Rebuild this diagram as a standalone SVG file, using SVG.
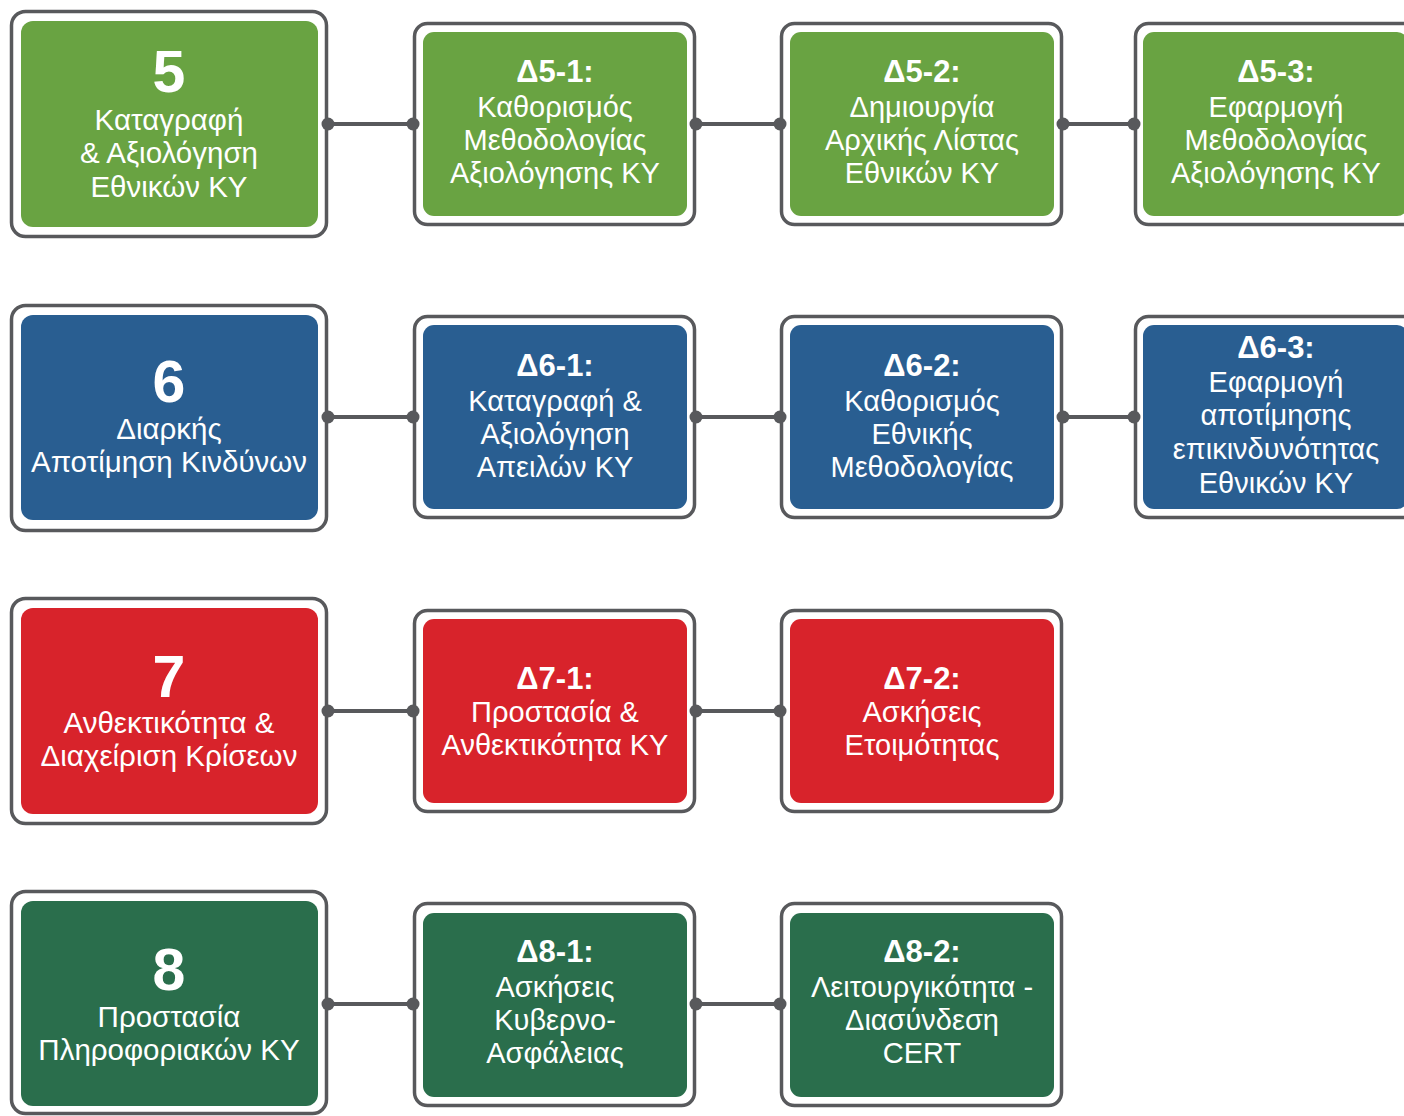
<svg xmlns="http://www.w3.org/2000/svg" width="1404" height="1116" viewBox="0 0 1404 1116">
<style>
.frame{fill:#fff;stroke:#58595c;stroke-width:3.5}
.g1{fill:#69a342}.b1{fill:#295e91}.r1{fill:#d8232b}.g2{fill:#2a6e4c}
text{font-family:"Liberation Sans",Arial,sans-serif;fill:#fff;text-anchor:middle}
.num{font-size:59px;font-weight:bold}
.mt{font-size:29.5px}
.ct{font-size:29px}
.ch{font-size:31px;font-weight:bold}
.con line{stroke:#58595c;stroke-width:4}
.con circle{fill:#58595c}
</style>

<!-- Row 5 -->
<g id="n5">
<rect class="frame" x="11.5" y="11.5" width="315" height="225" rx="14"/>
<rect class="g1" x="21" y="21" width="297" height="206" rx="12"/>
<text class="num" x="169" y="92">5</text>
<text class="mt" x="169" y="130">Καταγραφή</text>
<text class="mt" x="169" y="163">&amp; Αξιολόγηση</text>
<text class="mt" x="169" y="197">Εθνικών ΚΥ</text>
</g>
<g id="d5-1">
<rect class="frame" x="414.5" y="23.5" width="280" height="201" rx="13"/>
<rect class="g1" x="423" y="32" width="264" height="184" rx="11"/>
<text class="ch" x="555" y="82">Δ5-1:</text>
<text class="ct" x="555" y="117">Καθορισμός</text>
<text class="ct" x="555" y="150">Μεθοδολογίας</text>
<text class="ct" x="555" y="183">Αξιολόγησης ΚΥ</text>
</g>
<g id="d5-2">
<rect class="frame" x="781.5" y="23.5" width="280" height="201" rx="13"/>
<rect class="g1" x="790" y="32" width="264" height="184" rx="11"/>
<text class="ch" x="922" y="82">Δ5-2:</text>
<text class="ct" x="922" y="117">Δημιουργία</text>
<text class="ct" x="922" y="150">Αρχικής Λίστας</text>
<text class="ct" x="922" y="183">Εθνικών ΚΥ</text>
</g>
<g id="d5-3">
<rect class="frame" x="1135.5" y="23.5" width="281" height="201" rx="13"/>
<rect class="g1" x="1143" y="32" width="265" height="184" rx="11"/>
<text class="ch" x="1276" y="82">Δ5-3:</text>
<text class="ct" x="1276" y="117">Εφαρμογή</text>
<text class="ct" x="1276" y="150">Μεθοδολογίας</text>
<text class="ct" x="1276" y="183">Αξιολόγησης ΚΥ</text>
</g>

<!-- Row 6 -->
<g id="n6">
<rect class="frame" x="11.5" y="305.5" width="315" height="225" rx="14"/>
<rect class="b1" x="21" y="315" width="297" height="205" rx="12"/>
<text class="num" x="169" y="402">6</text>
<text class="mt" x="169" y="439">Διαρκής</text>
<text class="mt" x="169" y="472">Αποτίμηση Κινδύνων</text>
</g>
<g id="d6-1">
<rect class="frame" x="414.5" y="316.5" width="280" height="201" rx="13"/>
<rect class="b1" x="423" y="325" width="264" height="184" rx="11"/>
<text class="ch" x="555" y="376">Δ6-1:</text>
<text class="ct" x="555" y="411">Καταγραφή &amp;</text>
<text class="ct" x="555" y="444">Αξιολόγηση</text>
<text class="ct" x="555" y="477">Απειλών ΚΥ</text>
</g>
<g id="d6-2">
<rect class="frame" x="781.5" y="316.5" width="280" height="201" rx="13"/>
<rect class="b1" x="790" y="325" width="264" height="184" rx="11"/>
<text class="ch" x="922" y="376">Δ6-2:</text>
<text class="ct" x="922" y="411">Καθορισμός</text>
<text class="ct" x="922" y="444">Εθνικής</text>
<text class="ct" x="922" y="477">Μεθοδολογίας</text>
</g>
<g id="d6-3">
<rect class="frame" x="1135.5" y="316.5" width="281" height="201" rx="13"/>
<rect class="b1" x="1143" y="325" width="265" height="184" rx="11"/>
<text class="ch" x="1276" y="358">Δ6-3:</text>
<text class="ct" x="1276" y="392">Εφαρμογή</text>
<text class="ct" x="1276" y="425">αποτίμησης</text>
<text class="ct" x="1276" y="459">επικινδυνότητας</text>
<text class="ct" x="1276" y="493">Εθνικών ΚΥ</text>
</g>

<!-- Row 7 -->
<g id="n7">
<rect class="frame" x="11.5" y="598.5" width="315" height="225" rx="14"/>
<rect class="r1" x="21" y="608" width="297" height="206" rx="12"/>
<text class="num" x="169" y="697">7</text>
<text class="mt" x="169" y="733">Ανθεκτικότητα &amp;</text>
<text class="mt" x="169" y="766">Διαχείριση Κρίσεων</text>
</g>
<g id="d7-1">
<rect class="frame" x="414.5" y="610.5" width="280" height="201" rx="13"/>
<rect class="r1" x="423" y="619" width="264" height="184" rx="11"/>
<text class="ch" x="555" y="689">Δ7-1:</text>
<text class="ct" x="555" y="722">Προστασία &amp;</text>
<text class="ct" x="555" y="755">Ανθεκτικότητα ΚΥ</text>
</g>
<g id="d7-2">
<rect class="frame" x="781.5" y="610.5" width="280" height="201" rx="13"/>
<rect class="r1" x="790" y="619" width="264" height="184" rx="11"/>
<text class="ch" x="922" y="689">Δ7-2:</text>
<text class="ct" x="922" y="722">Ασκήσεις</text>
<text class="ct" x="922" y="755">Ετοιμότητας</text>
</g>

<!-- Row 8 -->
<g id="n8">
<rect class="frame" x="11.5" y="891.5" width="315" height="222" rx="14"/>
<rect class="g2" x="21" y="901" width="297" height="205" rx="12"/>
<text class="num" x="169" y="990">8</text>
<text class="mt" x="169" y="1027">Προστασία</text>
<text class="mt" x="169" y="1060">Πληροφοριακών ΚΥ</text>
</g>
<g id="d8-1">
<rect class="frame" x="414.5" y="903.5" width="280" height="202" rx="13"/>
<rect class="g2" x="423" y="913" width="264" height="184" rx="11"/>
<text class="ch" x="555" y="962">Δ8-1:</text>
<text class="ct" x="555" y="997">Ασκήσεις</text>
<text class="ct" x="555" y="1030">Κυβερνο-</text>
<text class="ct" x="555" y="1063">Ασφάλειας</text>
</g>
<g id="d8-2">
<rect class="frame" x="781.5" y="903.5" width="280" height="202" rx="13"/>
<rect class="g2" x="790" y="913" width="264" height="184" rx="11"/>
<text class="ch" x="922" y="962">Δ8-2:</text>
<text class="ct" x="922" y="997">Λειτουργικότητα -</text>
<text class="ct" x="922" y="1030">Διασύνδεση</text>
<text class="ct" x="922" y="1063">CERT</text>
</g>

<g id="connectors" class="con">
<line x1="328" y1="124" x2="413" y2="124"/><circle cx="328" cy="124" r="6.5"/><circle cx="413" cy="124" r="6.5"/>
<line x1="696" y1="124" x2="780" y2="124"/><circle cx="696" cy="124" r="6.5"/><circle cx="780" cy="124" r="6.5"/>
<line x1="1063" y1="124" x2="1134" y2="124"/><circle cx="1063" cy="124" r="6.5"/><circle cx="1134" cy="124" r="6.5"/>
<line x1="328" y1="417" x2="413" y2="417"/><circle cx="328" cy="417" r="6.5"/><circle cx="413" cy="417" r="6.5"/>
<line x1="696" y1="417" x2="780" y2="417"/><circle cx="696" cy="417" r="6.5"/><circle cx="780" cy="417" r="6.5"/>
<line x1="1063" y1="417" x2="1134" y2="417"/><circle cx="1063" cy="417" r="6.5"/><circle cx="1134" cy="417" r="6.5"/>
<line x1="328" y1="711" x2="413" y2="711"/><circle cx="328" cy="711" r="6.5"/><circle cx="413" cy="711" r="6.5"/>
<line x1="696" y1="711" x2="780" y2="711"/><circle cx="696" cy="711" r="6.5"/><circle cx="780" cy="711" r="6.5"/>
<line x1="328" y1="1004" x2="413" y2="1004"/><circle cx="328" cy="1004" r="6.5"/><circle cx="413" cy="1004" r="6.5"/>
<line x1="696" y1="1004" x2="780" y2="1004"/><circle cx="696" cy="1004" r="6.5"/><circle cx="780" cy="1004" r="6.5"/>
</g>
</svg>
